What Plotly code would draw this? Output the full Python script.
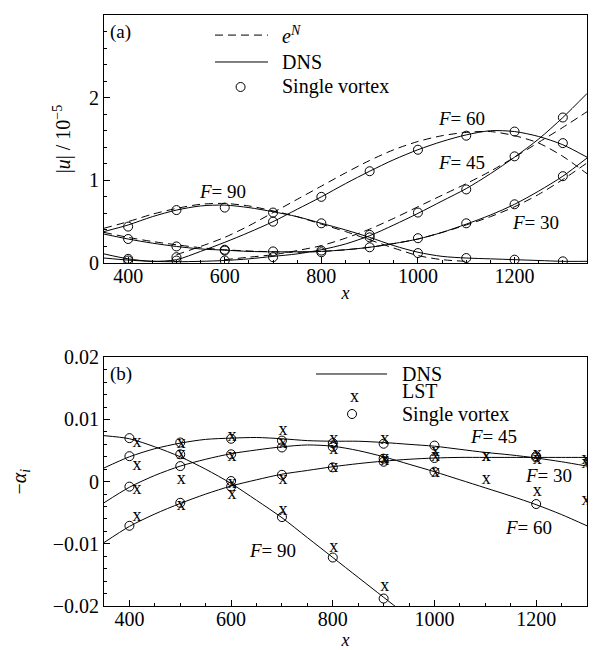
import plotly.graph_objects as go

# ---------------- Panel (a): |u| / 1e-5 ----------------
a_x = [350, 400, 450, 500, 550, 600, 650, 700, 750, 800, 850, 900, 950,
       1000, 1050, 1100, 1150, 1200, 1250, 1300, 1350]
a_dns_f90 = [0.38, 0.46, 0.56, 0.64, 0.69, 0.70, 0.67, 0.62, 0.56, 0.48, 0.40,
             0.31, 0.21, 0.13, 0.08, 0.06, 0.05, 0.04, 0.03, 0.02, 0.02]
a_dns_f60 = [0.11, 0.05, 0.02, 0.04, 0.14, 0.25, 0.37, 0.50, 0.65, 0.80, 0.96,
             1.11, 1.25, 1.37, 1.47, 1.55, 1.60, 1.59, 1.53, 1.43, 1.28]
a_dns_f45 = [0.06, 0.035, 0.02, 0.015, 0.02, 0.03, 0.05, 0.08, 0.11, 0.16, 0.23,
             0.33, 0.46, 0.60, 0.75, 0.90, 1.08, 1.28, 1.50, 1.76, 2.05]
a_dns_f30 = [0.35, 0.29, 0.24, 0.20, 0.17, 0.155, 0.14, 0.135, 0.135, 0.14, 0.16,
             0.19, 0.235, 0.29, 0.37, 0.47, 0.58, 0.71, 0.87, 1.05, 1.27]

a_en_f90 = [0.42, 0.50, 0.59, 0.66, 0.71, 0.72, 0.69, 0.63, 0.56, 0.47, 0.38,
            0.28, 0.18, 0.09, 0.04, 0.02, None, None, None, None, None]
a_en_f60 = [None, None, None, 0.10, 0.20, 0.31, 0.45, 0.61, 0.77, 0.93, 1.09,
            1.24, 1.37, 1.47, 1.54, 1.58, 1.59, 1.54, 1.45, 1.29, 1.08]
a_en_f45 = [None, None, None, None, None, 0.04, 0.07, 0.10, 0.15, 0.21, 0.30,
            0.41, 0.54, 0.68, 0.82, 0.96, 1.11, 1.28, 1.46, 1.64, 1.83]
a_en_f30 = [0.37, 0.31, 0.26, 0.22, 0.185, 0.16, 0.145, 0.135, 0.13, 0.14, 0.16,
            0.19, 0.235, 0.29, 0.37, 0.46, 0.56, 0.68, 0.83, 1.01, 1.21]

a_sv_x = [400, 500, 600, 700, 800, 900, 1000, 1100, 1200, 1300]
a_sv_f90 = [0.44, 0.64, 0.67, 0.61, 0.48, 0.34, 0.12, 0.06, 0.04, 0.02]
a_sv_f60 = [0.05, 0.07, 0.15, 0.50, 0.80, 1.11, 1.37, 1.54, 1.59, 1.45]
a_sv_f45 = [0.03, 0.03, 0.03, 0.07, 0.15, 0.31, 0.61, 0.89, 1.29, 1.76]
a_sv_f30 = [0.29, 0.20, 0.16, 0.14, 0.13, 0.19, 0.30, 0.48, 0.71, 1.05]

a_labels = ["<i>F</i>= 90", "<i>F</i>= 60", "<i>F</i>= 45", "<i>F</i>= 30"]
a_label_x = [596, 1091, 1091, 1243]
a_label_y = [0.86, 1.75, 1.22, 0.49]

# ---------------- Panel (b): -alpha_i ----------------
b_x = [350, 400, 450, 500, 550, 600, 650, 700, 750, 800, 850, 900, 950,
       1000, 1050, 1100, 1150, 1200, 1250, 1300]
b_dns_f90 = [0.0074, 0.0069, 0.0056, 0.0040, 0.0020, -0.0003, -0.0030, -0.0058,
             -0.0090, -0.0122, -0.0154, -0.0186, -0.0218, None, None, None,
             None, None, None, None]
b_dns_f45 = [0.0022, 0.0040, 0.0053, 0.0062, 0.0068, 0.0070, 0.0071, 0.0069,
             0.0066, 0.0065, 0.0065, 0.0063, 0.0060, 0.0057, 0.0052, 0.0047,
             0.0043, 0.0038, 0.0032, 0.0025]
b_dns_f60 = [-0.0034, -0.0009, 0.0010, 0.0025, 0.0036, 0.0045, 0.0051, 0.0056,
             0.0059, 0.0057, 0.0050, 0.0040, 0.0028, 0.0016, 0.0003, -0.0010,
             -0.0023, -0.0037, -0.0053, -0.0071]
b_dns_f30 = [-0.0098, -0.0072, -0.0052, -0.0035, -0.0020, -0.0007, 0.0003, 0.0012,
             0.0018, 0.0024, 0.0029, 0.0033, 0.0036, 0.0038, 0.0039, 0.0039,
             0.0039, 0.0039, 0.0039, 0.0039]

b_lst_x = [415, 502, 602, 702, 802, 902, 1002, 1102, 1202, 1298]
b_lst_f90 = [0.0063, 0.0044, -0.0021, -0.0046, -0.0106, -0.0168, None, None, None, None]
b_lst_f45 = [0.0026, 0.0062, 0.0073, 0.0083, 0.0068, 0.0068, 0.0048, 0.0041, 0.0036, 0.0029]
b_lst_f60 = [-0.0012, 0.0004, 0.0040, 0.0062, 0.0051, 0.0038, 0.0014, 0.0004, -0.0016, -0.0030]
b_lst_f30 = [-0.0056, -0.0038, -0.0003, 0.0003, 0.0022, 0.0034, 0.0040, 0.0040, 0.0043, 0.0036]

b_sv_x = [400, 500, 600, 700, 800, 900, 1000, 1200]
b_sv_f90 = [0.0070, 0.0044, 0.0001, -0.0057, -0.0122, -0.0188, None, None]
b_sv_f45 = [0.0041, 0.0063, 0.0069, 0.0066, 0.0062, 0.0061, 0.0058, 0.0041]
b_sv_f60 = [-0.0008, 0.0025, 0.0044, 0.0055, 0.0056, 0.0037, 0.0016, -0.0036]
b_sv_f30 = [-0.0071, -0.0034, -0.0008, 0.0011, 0.0023, 0.0032, 0.0038, 0.0039]

b_labels = ["<i>F</i>= 45", "<i>F</i>= 30", "<i>F</i>= 60", "<i>F</i>= 90"]
b_label_x = [1117, 1224, 1184, 681]
b_label_y = [0.0073, 0.0010, -0.0074, -0.0110]

legend_a_names = ["<i>e</i><sup><i>N</i></sup>", "DNS", "Single vortex"]
legend_b_names = ["DNS", "LST", "Single vortex"]

FONT = "Liberation Serif, Times New Roman, DejaVu Serif, serif"
BLACK = "#000000"


def present(xs, ys):
    pairs = [(x, y) for x, y in zip(xs, ys) if y is not None]
    return [p[0] for p in pairs], [p[1] for p in pairs]


fig = go.Figure()

line_a = dict(color=BLACK, width=1, shape="spline", smoothing=0.8)
circ = dict(symbol="circle-open", size=9, color=BLACK, line=dict(width=1, color=BLACK))

# ---- panel (a) traces ----
for ys in [a_en_f90, a_en_f60, a_en_f45, a_en_f30]:
    fig.add_trace(go.Scatter(x=a_x, y=ys, mode="lines", xaxis="x", yaxis="y",
                             line=dict(line_a, dash="8px,5px"),
                             name=legend_a_names[0], showlegend=False))
for ys in [a_dns_f90, a_dns_f60, a_dns_f45, a_dns_f30]:
    fig.add_trace(go.Scatter(x=a_x, y=ys, mode="lines", xaxis="x", yaxis="y",
                             line=line_a, name=legend_a_names[1], showlegend=False))
for ys in [a_sv_f90, a_sv_f60, a_sv_f45, a_sv_f30]:
    fig.add_trace(go.Scatter(x=a_sv_x, y=ys, mode="markers", xaxis="x", yaxis="y",
                             marker=circ, name=legend_a_names[2], showlegend=False))

# ---- panel (b) traces ----
for ys in [b_dns_f90, b_dns_f45, b_dns_f60, b_dns_f30]:
    fig.add_trace(go.Scatter(x=b_x, y=ys, mode="lines", xaxis="x2", yaxis="y2",
                             line=line_a, name=legend_b_names[0], showlegend=False))
for ys in [b_lst_f90, b_lst_f45, b_lst_f60, b_lst_f30]:
    xs_p, ys_p = present(b_lst_x, ys)
    fig.add_trace(go.Scatter(x=xs_p, y=ys_p, mode="text", xaxis="x2", yaxis="y2",
                             text=["x"] * len(xs_p), textposition="middle center",
                             textfont=dict(family=FONT, size=18, color=BLACK),
                             name=legend_b_names[1], showlegend=False))
for ys in [b_sv_f90, b_sv_f45, b_sv_f60, b_sv_f30]:
    xs_p, ys_p = present(b_sv_x, ys)
    fig.add_trace(go.Scatter(x=xs_p, y=ys_p, mode="markers", xaxis="x2", yaxis="y2",
                             marker=circ, name=legend_b_names[2], showlegend=False))

tfont = dict(family=FONT, size=19, color=BLACK)
annotations = []
for t, xx, yy in zip(a_labels, a_label_x, a_label_y):
    annotations.append(dict(x=xx, y=yy, xref="x", yref="y", text=t, showarrow=False, font=tfont))
for t, xx, yy in zip(b_labels, b_label_x, b_label_y):
    annotations.append(dict(x=xx, y=yy, xref="x2", yref="y2", text=t, showarrow=False, font=tfont))
annotations.append(dict(x=0.008, y=0.985, xref="x domain", yref="y domain", text="(a)",
                        showarrow=False, xanchor="left", yanchor="top", font=tfont))
annotations.append(dict(x=0.008, y=0.985, xref="x2 domain", yref="y2 domain", text="(b)",
                        showarrow=False, xanchor="left", yanchor="top", font=tfont))

# ---- legend keys (layout decoration) ----
shapes = []
leg_a_rows = [0.919, 0.8105, 0.7097]
shapes.append(dict(type="line", xref="x domain", yref="y domain", x0=0.2298, x1=0.3395,
                   y0=leg_a_rows[0], y1=leg_a_rows[0], line=dict(color=BLACK, width=1, dash="8px,5px")))
shapes.append(dict(type="line", xref="x domain", yref="y domain", x0=0.2298, x1=0.3395,
                   y0=leg_a_rows[1], y1=leg_a_rows[1], line=dict(color=BLACK, width=1)))
shapes.append(dict(type="circle", xref="x domain", yref="y domain", xsizemode="pixel",
                   ysizemode="pixel", xanchor=0.2828, yanchor=leg_a_rows[2],
                   x0=-4.5, x1=4.5, y0=-4.5, y1=4.5, line=dict(color=BLACK, width=1)))
for name, yy in zip(legend_a_names, leg_a_rows):
    annotations.append(dict(x=0.3644, y=yy, xref="x domain", yref="y domain", text=name,
                            showarrow=False, xanchor="left", yanchor="middle",
                            font=dict(family=FONT, size=20, color=BLACK)))
leg_b_rows = [0.9329, 0.8645, 0.772]
shapes.append(dict(type="line", xref="x2 domain", yref="y2 domain", x0=0.439, x1=0.586,
                   y0=leg_b_rows[0], y1=leg_b_rows[0], line=dict(color=BLACK, width=1)))
annotations.append(dict(x=0.5176, y=0.845, xref="x2 domain", yref="y2 domain", text="x",
                        showarrow=False, xanchor="center", yanchor="middle",
                        font=dict(family=FONT, size=18, color=BLACK)))
shapes.append(dict(type="circle", xref="x2 domain", yref="y2 domain", xsizemode="pixel",
                   ysizemode="pixel", xanchor=0.5135, yanchor=leg_b_rows[2],
                   x0=-4.5, x1=4.5, y0=-4.5, y1=4.5, line=dict(color=BLACK, width=1)))
for name, yy in zip(legend_b_names, leg_b_rows):
    annotations.append(dict(x=0.6128, y=yy, xref="x2 domain", yref="y2 domain", text=name,
                            showarrow=False, xanchor="left", yanchor="middle",
                            font=dict(family=FONT, size=20, color=BLACK)))

axis_common = dict(showline=True, linecolor=BLACK, linewidth=1, mirror=True,
                   ticks="inside", ticklen=6, tickcolor=BLACK, tickwidth=1,
                   showgrid=False, zeroline=False, automargin=False,
                   tickfont=dict(family=FONT, size=20, color=BLACK))
xminor = dict(tickmode="linear", tick0=350, dtick=50, ticks="inside", ticklen=3, tickcolor=BLACK)

# page body adds ~8px offset, margins compensate so the plot lands where the reference has it
fig.update_layout(
    width=601, height=650,
    margin=dict(l=96, r=22, t=7, b=52),
    paper_bgcolor="white", plot_bgcolor="white",
    font=dict(family=FONT, size=20, color=BLACK),
    showlegend=False,
    xaxis=dict(axis_common, domain=[0, 1], range=[350, 1350], anchor="y",
               tickmode="linear", tick0=400, dtick=200, minor=xminor,
               ticklabelstandoff=-5,
               title=dict(text="<i>x</i>", standoff=0, font=dict(family=FONT, size=18))),
    yaxis=dict(axis_common, domain=[0.5804, 1], range=[0, 3], anchor="x",
               tickmode="linear", tick0=0, dtick=1,
               minor=dict(tickmode="linear", tick0=0, dtick=0.2, ticks="inside",
                          ticklen=3, tickcolor=BLACK),
               title=dict(text="|<i>u</i>| / 10<sup>−5</sup>", standoff=12,
                          font=dict(family=FONT, size=20))),
    xaxis2=dict(axis_common, domain=[0, 1], range=[350, 1300], anchor="y2",
                tickmode="linear", tick0=400, dtick=200, minor=xminor,
                ticklabelstandoff=-5,
                title=dict(text="<i>x</i>", standoff=0, font=dict(family=FONT, size=18))),
    yaxis2=dict(axis_common, domain=[0, 0.4208], range=[-0.02, 0.02], anchor="x2",
                tickmode="linear", tick0=0, dtick=0.01,
                minor=dict(tickmode="linear", tick0=0, dtick=0.002, ticks="inside",
                           ticklen=3, tickcolor=BLACK),
                title=dict(text="−<i>α<sub>i</sub></i>", standoff=39,
                           font=dict(family=FONT, size=20))),
    annotations=annotations,
    shapes=shapes,
)

fig.write_html("out.html")
